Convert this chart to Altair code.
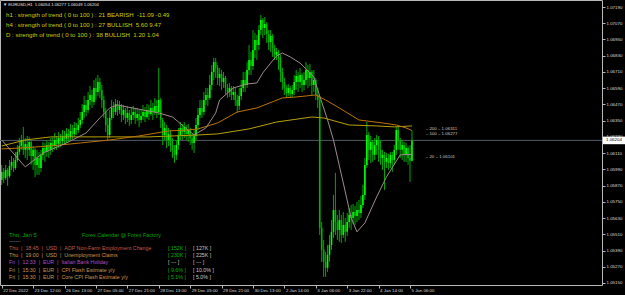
import json
import pandas as pd
import altair as alt

# ---------------- data (EURUSD H1) ----------------
symbol = "EURUSD,H1"
open0 = 1.05912
close = [
    1.05971, 1.05927, 1.05986, 1.05941, 1.06015, 1.06045, 1.06000, 1.06060, 1.06119, 1.06163,
    1.06207, 1.06134, 1.06178, 1.06134, 1.06193, 1.06089, 1.06134, 1.06023, 1.06074, 1.06000,
    1.06097, 1.06148, 1.06119, 1.06170, 1.06134, 1.06185, 1.06163, 1.06207, 1.06178, 1.06222,
    1.06200, 1.06237, 1.06215, 1.06252, 1.06230, 1.06274, 1.06252, 1.06296, 1.06281, 1.06318,
    1.06355, 1.06414, 1.06466, 1.06429, 1.06503, 1.06540, 1.06488, 1.06592, 1.06562, 1.06636,
    1.06577, 1.06503, 1.06414, 1.06318, 1.06244, 1.06370, 1.06444, 1.06414, 1.06473, 1.06429,
    1.06459, 1.06392, 1.06429, 1.06370, 1.06407, 1.06355, 1.06392, 1.06414, 1.06370, 1.06400,
    1.06355, 1.06385, 1.06414, 1.06377, 1.06429, 1.06400, 1.06444, 1.06414, 1.06459, 1.06414,
    1.06503, 1.06355, 1.06244, 1.06296, 1.06207, 1.06252, 1.06170, 1.06134, 1.06097, 1.06170,
    1.06244, 1.06296, 1.06267, 1.06304, 1.06252, 1.06281, 1.06222, 1.06185, 1.06237, 1.06318,
    1.06392, 1.06444, 1.06414, 1.06503, 1.06540, 1.06518, 1.06614, 1.06710, 1.06784, 1.06740,
    1.06666, 1.06695, 1.06636, 1.06666, 1.06592, 1.06562, 1.06592, 1.06540, 1.06562, 1.06503,
    1.06459, 1.06533, 1.06592, 1.06651, 1.06614, 1.06725, 1.06799, 1.06754, 1.06873, 1.06946,
    1.06909, 1.07020, 1.07094, 1.07035, 1.07065, 1.06991, 1.06932, 1.06976, 1.06887, 1.06836,
    1.06858, 1.06813, 1.06710, 1.06636, 1.06592, 1.06555, 1.06592, 1.06547, 1.06577, 1.06636,
    1.06680, 1.06636, 1.06688, 1.06614, 1.06651, 1.06725, 1.06666, 1.06710, 1.06614, 1.06651,
    1.06540, 1.06503, 1.05557, 1.05395, 1.05306, 1.05262, 1.05358, 1.05431, 1.05528, 1.05690,
    1.05601, 1.05542, 1.05616, 1.05505, 1.05579, 1.05528, 1.05601, 1.05653, 1.05631, 1.05675,
    1.05646, 1.05690, 1.05668, 1.05727, 1.05801, 1.06023, 1.06244, 1.06134, 1.06193, 1.06097,
    1.06170, 1.06207, 1.06134, 1.06074, 1.06097, 1.06045, 1.06074, 1.06037, 1.06097, 1.06060,
    1.06134, 1.06281, 1.06207, 1.06134, 1.06170, 1.06097, 1.06148, 1.06074, 1.06054, 1.06204,
]
high = [
    1.06023, 1.06000, 1.06023, 1.06000, 1.06060, 1.06089, 1.06074, 1.06119, 1.06170, 1.06222,
    1.06244, 1.06304, 1.06222, 1.06237, 1.06230, 1.06207, 1.06163, 1.06148, 1.06134, 1.06119,
    1.06134, 1.06193, 1.06185, 1.06207, 1.06193, 1.06222, 1.06230, 1.06259, 1.06237, 1.06267,
    1.06252, 1.06281, 1.06274, 1.06296, 1.06289, 1.06326, 1.06318, 1.06340, 1.06333, 1.06370,
    1.06414, 1.06473, 1.06533, 1.06503, 1.06562, 1.06606, 1.06577, 1.06651, 1.06666, 1.06688,
    1.06666, 1.06614, 1.06533, 1.06444, 1.06370, 1.06429, 1.06503, 1.06488, 1.06510, 1.06503,
    1.06496, 1.06473, 1.06466, 1.06444, 1.06459, 1.06429, 1.06444, 1.06459, 1.06444, 1.06444,
    1.06429, 1.06429, 1.06466, 1.06451, 1.06473, 1.06466, 1.06503, 1.06481, 1.06518, 1.06503,
    1.06740, 1.06518, 1.06370, 1.06340, 1.06318, 1.06296, 1.06281, 1.06222, 1.06170, 1.06207,
    1.06296, 1.06340, 1.06326, 1.06340, 1.06318, 1.06326, 1.06296, 1.06252, 1.06281, 1.06370,
    1.06444, 1.06503, 1.06503, 1.06562, 1.06592, 1.06592, 1.06688, 1.06762, 1.06813, 1.06813,
    1.06762, 1.06740, 1.06725, 1.06710, 1.06680, 1.06621, 1.06629, 1.06606, 1.06606, 1.06592,
    1.06540, 1.06592, 1.06651, 1.06710, 1.06710, 1.06784, 1.06909, 1.06858, 1.07020, 1.06998,
    1.06983, 1.07057, 1.07131, 1.07109, 1.07116, 1.07079, 1.07020, 1.07020, 1.06991, 1.06909,
    1.06887, 1.06873, 1.06836, 1.06740, 1.06666, 1.06614, 1.06621, 1.06606, 1.06614, 1.06688,
    1.06725, 1.06710, 1.06740, 1.06703, 1.06710, 1.06784, 1.06762, 1.06769, 1.06725, 1.06725,
    1.06666, 1.06592, 1.06525, 1.05601, 1.05468, 1.05380, 1.05431, 1.05505, 1.05616, 1.05801,
    1.05964, 1.05653, 1.05690, 1.05653, 1.05675, 1.05631, 1.05668, 1.05705, 1.05727, 1.05734,
    1.05720, 1.05749, 1.05764, 1.05794, 1.05875, 1.06074, 1.06340, 1.06267, 1.06237, 1.06207,
    1.06222, 1.06244, 1.06237, 1.06207, 1.06134, 1.06119, 1.06111, 1.06104, 1.06119, 1.06119,
    1.06170, 1.06304, 1.06304, 1.06222, 1.06207, 1.06193, 1.06185, 1.06163, 1.06170, 1.06277,
]
low = [
    1.05875, 1.05890, 1.05912, 1.05868, 1.05927, 1.05986, 1.05971, 1.05986, 1.06045, 1.06097,
    1.06134, 1.06097, 1.06074, 1.06060, 1.06089, 1.06023, 1.05986, 1.05934, 1.05949, 1.05949,
    1.05971, 1.06060, 1.06045, 1.06082, 1.06074, 1.06097, 1.06119, 1.06134, 1.06134, 1.06148,
    1.06156, 1.06170, 1.06170, 1.06185, 1.06193, 1.06207, 1.06215, 1.06230, 1.06244, 1.06259,
    1.06296, 1.06326, 1.06370, 1.06385, 1.06407, 1.06466, 1.06444, 1.06466, 1.06503, 1.06533,
    1.06518, 1.06444, 1.06370, 1.06267, 1.06207, 1.06222, 1.06355, 1.06370, 1.06392, 1.06385,
    1.06400, 1.06340, 1.06355, 1.06326, 1.06340, 1.06311, 1.06326, 1.06355, 1.06326, 1.06348,
    1.06304, 1.06333, 1.06355, 1.06340, 1.06363, 1.06355, 1.06385, 1.06355, 1.06392, 1.06370,
    1.06392, 1.06296, 1.06170, 1.06207, 1.06148, 1.06163, 1.06119, 1.06074, 1.06037, 1.06060,
    1.06134, 1.06207, 1.06207, 1.06222, 1.06207, 1.06193, 1.06170, 1.06134, 1.06111, 1.06207,
    1.06281, 1.06370, 1.06370, 1.06392, 1.06466, 1.06459, 1.06503, 1.06577, 1.06651, 1.06666,
    1.06614, 1.06606, 1.06577, 1.06592, 1.06547, 1.06518, 1.06525, 1.06503, 1.06503, 1.06459,
    1.06407, 1.06429, 1.06503, 1.06562, 1.06562, 1.06592, 1.06688, 1.06688, 1.06725, 1.06813,
    1.06799, 1.06873, 1.06983, 1.06961, 1.06983, 1.06924, 1.06873, 1.06858, 1.06821, 1.06799,
    1.06799, 1.06725, 1.06636, 1.06577, 1.06540, 1.06518, 1.06533, 1.06518, 1.06525, 1.06540,
    1.06577, 1.06562, 1.06592, 1.06562, 1.06577, 1.06614, 1.06592, 1.06606, 1.06540, 1.06562,
    1.06503, 1.06444, 1.05505, 1.05306, 1.05195, 1.05195, 1.05232, 1.05306, 1.05395, 1.05483,
    1.05505, 1.05468, 1.05454, 1.05446, 1.05483, 1.05454, 1.05498, 1.05557, 1.05542, 1.05587,
    1.05579, 1.05601, 1.05616, 1.05631, 1.05705, 1.05764, 1.06000, 1.06060, 1.06037, 1.06045,
    1.06060, 1.06097, 1.06045, 1.06023, 1.05986, 1.05838, 1.06000, 1.05986, 1.06000, 1.05971,
    1.06023, 1.06097, 1.06134, 1.06074, 1.06060, 1.06045, 1.06045, 1.06023, 1.05897, 1.06049,
]

# moving averages (bar index, value)
ma20_bar = [0, 12, 21, 33, 43, 50, 55, 59, 64, 72, 80, 87, 93, 98, 104, 109, 111, 118, 125,
            130, 133, 137, 140, 143, 147, 152, 159, 161, 166, 169, 174, 178, 181, 185, 191,
            196, 203, 209]
ma20_val = [1.06207, 1.06008, 1.06111, 1.06185, 1.06259, 1.06370, 1.06444, 1.06466, 1.06451,
            1.06429, 1.06407, 1.06377, 1.06304, 1.06244, 1.06296, 1.06407, 1.06503, 1.06592,
            1.06621, 1.06629, 1.06703, 1.06776, 1.06828, 1.06850, 1.06821, 1.06776, 1.06673,
            1.06577, 1.06355, 1.06207, 1.05890, 1.05631, 1.05528, 1.05594, 1.05786, 1.05934,
            1.06097, 1.06101]
ma100_bar = [0, 10, 25, 40, 55, 70, 85, 95, 100, 110, 120, 130, 143, 150, 160, 165, 172,
             182, 194, 201, 206, 209]
ma100_val = [1.06141, 1.06148, 1.06163, 1.06185, 1.06207, 1.06237, 1.06274, 1.06281, 1.06289,
             1.06333, 1.06414, 1.06444, 1.06518, 1.06525, 1.06540, 1.06503, 1.06444, 1.06355,
             1.06333, 1.06318, 1.06296, 1.06277]
ma200_bar = [0, 12, 25, 50, 75, 100, 110, 126, 140, 158, 164, 177, 191, 200, 209]
ma200_val = [1.06163, 1.06207, 1.06230, 1.06230, 1.06230, 1.06244, 1.06252, 1.06289, 1.06340,
             1.06377, 1.06370, 1.06318, 1.06311, 1.06304, 1.06311]
ma_periods = [200, 100, 20]

x_tick_bars = list(range(0, 209, 16))
x_tick_labels = ["22 Dec 2022", "23 Dec 12:00", "26 Dec 13:00", "27 Dec 05:00", "27 Dec 21:00",
                 "28 Dec 13:00", "29 Dec 05:00", "29 Dec 21:00", "30 Dec 13:00", "2 Jan 14:00",
                 "3 Jan 06:00", "3 Jan 22:00", "4 Jan 14:00", "5 Jan 06:00"]
y_ticks = [1.05150, 1.05270, 1.05390, 1.05510, 1.05630, 1.05750, 1.05870, 1.05990, 1.06110,
           1.06230, 1.06350, 1.06470, 1.06590, 1.06710, 1.06830, 1.06950, 1.07070, 1.07190]

# trend-strength panel
tf_names = ["h1", "h4", "D"]
tf_strength = [21, 27, 38]
tf_trend = ["BEARISH", "BULLISH", "BULLISH"]
tf_v1 = ["-11.09", "5.60", "1.20"]
tf_v2 = ["-0.49", "9.47", "1.04"]

# forex calendar
cal_day = ["Thu", "Thu", "Fri", "Fri", "Fri"]
cal_time = ["18:45", "19:00", "12:33", "15:30", "15:30"]
cal_cur = ["USD", "USD", "EUR", "EUR", "EUR"]
cal_event = ["ADP Non-Farm Employment Change", "Unemployment Claims", "Italian Bank Holiday",
             "CPI Flash Estimate y/y", "Core CPI Flash Estimate y/y"]
cal_actual = ["152K", "230K", "---", "9.6%", "5.1%"]
cal_forecast = ["127K", "225K", "---", "10.0%", "5.0%"]

# ---------------- build ----------------
FONT = "Liberation Sans"
N = len(close)
opens = [open0] + close[:-1]
candles = pd.DataFrame({"bar": list(range(N)), "open": opens, "close": close,
                        "high": high, "low": low})
candles["dir"] = ["up" if c >= o else "down" for o, c in zip(opens, close)]

xscale = alt.Scale(domain=[-0.87, 305.8], nice=False, zero=False)
yscale = alt.Scale(domain=[1.05135, 1.07242], nice=False, zero=False)
label_expr = json.dumps(x_tick_labels) + "[round(datum.value / 16)]"
xaxis = alt.Axis(values=x_tick_bars, labelExpr=label_expr, title=None, orient="bottom",
                 labelAlign="left", labelOffset=1, labelBaseline="top", labelPadding=0.5,
                 tickSize=3, labelOverlap=False, labelFlush=False, grid=False, domain=False)
yaxis = alt.Axis(values=y_ticks, format=".5f", title=None, orient="right", tickSize=3,
                 labelPadding=1, labelOverlap=False, labelFlush=False, grid=False, domain=False)

X = lambda f: alt.X(f, type="quantitative", scale=xscale, axis=xaxis)
Y = lambda f: alt.Y(f, type="quantitative", scale=yscale, axis=yaxis)

last = close[-1]
pdf = pd.DataFrame({"p": [last], "lo": [last - 0.00028], "hi": [last + 0.00028],
                    "t": [f"{last:.5f}"]})
price_line = alt.Chart(pdf).mark_rule(color="#505a64", strokeWidth=1).encode(y=Y("p"))

wicks = alt.Chart(candles).mark_rule(strokeWidth=1, color="#00a800").encode(
    x=X("bar"), y=Y("low"), y2="high")
bodies = alt.Chart(candles).mark_rule(strokeWidth=1.6).encode(
    x=X("bar"), y=Y("open"), y2="close",
    color=alt.Color("dir:N", scale=alt.Scale(domain=["up", "down"],
                                             range=["#00ff00", "#00b400"]), legend=None))

def ma_layer(bars, vals, col):
    d = pd.DataFrame({"bar": bars, "v": vals})
    return alt.Chart(d).mark_line(color=col, strokeWidth=1).encode(x=X("bar"), y=Y("v"))

ma200 = ma_layer(ma200_bar, ma200_val, "#b8a000")
ma100 = ma_layer(ma100_bar, ma100_val, "#bc7400")
ma20 = ma_layer(ma20_bar, ma20_val, "#a08a8e")

ends = [ma200_val[-1], ma100_val[-1], ma20_val[-1]]
mal = pd.DataFrame({"bar": [216] * 3, "v": ends,
                    "t": [f"\u2013 {p} \u2013 {v:.5f}" for p, v in zip(ma_periods, ends)]})
ma_labels = alt.Chart(mal).mark_text(align="left", baseline="middle", dy=3, fontSize=4.4,
                                     font=FONT, color="#c8c8c8").encode(
    x=X("bar"), y=Y("v"), text="t:N")

price_box = alt.Chart(pdf).mark_rect(color="#ffffff").encode(
    x=alt.value(603), x2=alt.value(625), y=Y("hi"), y2="lo")
price_txt = alt.Chart(pdf).mark_text(align="left", baseline="middle", fontSize=4.4,
                                     font=FONT, color="#000000").encode(
    x=alt.value(606), y=Y("p"), text="t:N")

def txt(s, x, y, size, col, align="left"):
    return alt.Chart(pd.DataFrame({"t": [s]})).mark_text(
        align=align, baseline="middle", fontSize=size, font=FONT, color=col).encode(
        x=alt.value(x), y=alt.value(y), text="t:N")

NB = "\u00a0"
texts = []
header = (f"\u25bc {symbol}{NB}{NB}{opens[-1]:.5f} {high[-1]:.5f} "
          f"{low[-1]:.5f} {close[-1]:.5f}")
texts.append(txt(header, 3, 5, 4.2, "#e6e6e6"))
for k in range(3):
    s = (f"{tf_names[k]} : strength of trend ( 0 to 100 ) : {tf_strength[k]} "
         f"{tf_trend[k]}{NB}{NB}{tf_v1[k]} {tf_v2[k]}")
    texts.append(txt(s, 6, 15 + 10 * k, 6.1, "#cccc00"))

texts.append(txt("Thu, Jan 5", 9, 234.5, 5.9, "#00a800"))
texts.append(txt("Forex Calendar @ Forex Factory", 82, 235, 5.4, "#00a000"))
texts.append(txt("-------", 9, 241, 5, "#9a9a9a"))
row_cols = ["#c85a44", "#d09650", "#a850c8", "#c89650", "#c89650"]
sep = NB + NB + "|" + NB + NB
for k in range(5):
    yy = 247.7 + 7.33 * k
    s = cal_day[k] + sep + cal_time[k] + sep + cal_cur[k] + sep + cal_event[k]
    texts.append(txt(s, 9, yy, 5.3, row_cols[k]))
    act_col = "#c8c8c8" if cal_actual[k] == "---" else "#00b400"
    texts.append(txt(f"[ {cal_actual[k]} ]", 168, yy, 5.3, act_col))
    texts.append(txt(f"[ {cal_forecast[k]} ]", 193, yy, 5.3, "#c8c8c8"))

chart = alt.layer(price_line, wicks, bodies, ma200, ma100, ma20, ma_labels,
                  price_box, price_txt, *texts).properties(
    width=602, height=285, background="#000000",
    padding={"left": 0, "top": 0, "right": 23, "bottom": 10},
    autosize=alt.AutoSizeParams(type="none"),
).configure_view(stroke="#b8b8b8", strokeWidth=1).configure_axis(
    labelColor="#dcdcdc", tickColor="#b8b8b8", labelFont=FONT, labelFontSize=4.4)

chart.save("out.html", embed_options={"renderer": "svg", "actions": False})
